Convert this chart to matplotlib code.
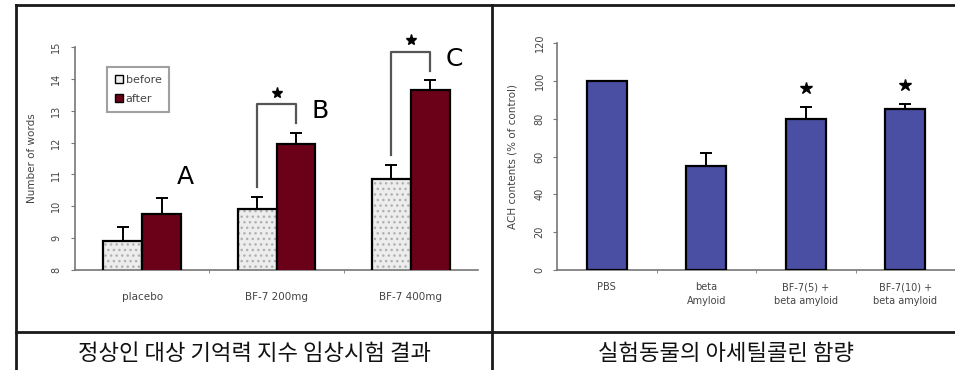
import matplotlib
matplotlib.use("Agg")
import matplotlib.pyplot as plt
from matplotlib.lines import Line2D
from matplotlib.patches import Patch
import numpy as np

# ---- data: left chart ----
groups = ["placebo", "BF-7 200mg", "BF-7 400mg"]
before_vals = [8.9, 9.9, 10.85]
before_err = [0.45, 0.4, 0.45]
after_vals = [9.75, 11.95, 13.65]
after_err = [0.5, 0.35, 0.3]
group_letters = ["A", "B", "C"]
left_yticks = [8, 9, 10, 11, 12, 13, 14, 15]

# ---- data: right chart ----
right_cats = ["PBS", "beta\nAmyloid", "BF-7(5) +\nbeta amyloid", "BF-7(10) +\nbeta amyloid"]
ach_vals = [100, 55, 80, 85]
ach_err = [0, 7, 6, 3]
ach_star = [False, False, True, True]
right_yticks = [0, 20, 40, 60, 80, 100, 120]

captions = ["정상인 대상 기억력 지수 임상시험 결과", "실험동물의 아세틸콜린 함량"]

W, H = 955, 370
fig = plt.figure(figsize=(W / 100, H / 100), dpi=100)
fig.patch.set_facecolor("white")

def fx(px):
    return px / W

def fy(py):
    return 1 - py / H

def add_ax(l, t, r, b):
    return fig.add_axes([fx(l), fy(b), fx(r) - fx(l), fy(t) - fy(b)])

tick_col = "#444444"
dark_red = "#6b0019"
blue = "#4b4fa3"

# ---------- left chart ----------
ax1 = add_ax(75, 47, 478, 270)
x = np.arange(len(groups))
bw = 0.29
ax1.bar(x - bw / 2, before_vals, bw, bottom=0, color="#ededed", edgecolor="#b0b0b0",
        hatch="...", linewidth=0, zorder=2)
ax1.bar(x - bw / 2, before_vals, bw, color="none", edgecolor="black", linewidth=1.6, zorder=3)
ax1.bar(x + bw / 2, after_vals, bw, color=dark_red, edgecolor="black", linewidth=1.6, zorder=3)
ax1.errorbar(x - bw / 2, before_vals, yerr=[np.zeros(3), before_err], fmt="none",
             ecolor="black", elinewidth=1.4, capsize=4, capthick=1.4, zorder=4)
ax1.errorbar(x + bw / 2, after_vals, yerr=[np.zeros(3), after_err], fmt="none",
             ecolor="black", elinewidth=1.4, capsize=4, capthick=1.4, zorder=4)
ax1.set_ylim(8, 15)
ax1.set_xlim(-0.5, 2.5)
ax1.set_yticks(left_yticks)
ax1.set_yticklabels([str(v) for v in left_yticks], fontsize=7, color=tick_col,
                    rotation=90, va="center")
ax1.set_xticks(x)
ax1.set_xticklabels(groups, fontsize=7.5, color=tick_col)
ax1.set_xticks([0.5, 1.5], minor=True)
ax1.tick_params(axis="x", which="major", length=0, pad=16)
ax1.tick_params(axis="x", which="minor", length=2, color="#777777", direction="out")
ax1.tick_params(axis="y", length=3, color="#777777", direction="out", pad=7)
for s in ["top", "right"]:
    ax1.spines[s].set_visible(False)
for s in ["left", "bottom"]:
    ax1.spines[s].set_color("#777777")
    ax1.spines[s].set_linewidth(1.2)
ax1.set_ylabel("Number of words", fontsize=7.5, color=tick_col, labelpad=10)

# letters
for i, lt in enumerate(group_letters):
    top = after_vals[i] + after_err[i]
    ax1.text(i + bw - 0.03, top + 0.68, lt, fontsize=18, color="black", ha="left",
             va="center", clip_on=False)

# brackets with stars for groups 1 and 2
for i in [1, 2]:
    yb = before_vals[i] + before_err[i] + 0.3
    ya = after_vals[i] + after_err[i] + 0.3
    ytop = after_vals[i] + after_err[i] + 0.9
    ax1.plot([i - bw / 2, i - bw / 2, i + bw / 2, i + bw / 2], [yb, ytop, ytop, ya],
             color="#555555", lw=1.6, zorder=5, clip_on=False)
    ax1.plot([i], [ytop + 0.37], marker="*", color="black", markersize=8, zorder=5,
             clip_on=False)

leg = ax1.legend(handles=[Patch(facecolor="#eeeeee", edgecolor="black", label="before"),
                          Patch(facecolor=dark_red, edgecolor="black", label="after")],
                 loc="upper left", bbox_to_anchor=(0.065, 0.935), fontsize=8, frameon=True,
                 fancybox=False, handlelength=0.8, handleheight=0.8, handletextpad=0.2,
                 borderpad=0.7, labelspacing=0.8, edgecolor="#888888")
leg.get_frame().set_linewidth(1.5)
for t in leg.get_texts():
    t.set_color(tick_col)

# ---------- right chart ----------
ax2 = add_ax(557, 43, 955, 270)
x2 = np.arange(len(right_cats))
bw2 = 0.4
ax2.bar(x2, ach_vals, bw2, color=blue, edgecolor="black", linewidth=1.6, zorder=3)
err_idx = [i for i, e in enumerate(ach_err) if e > 0]
ax2.errorbar([x2[i] for i in err_idx], [ach_vals[i] for i in err_idx],
             yerr=[[0] * len(err_idx), [ach_err[i] for i in err_idx]], fmt="none",
             ecolor="black", elinewidth=1.4, capsize=4, capthick=1.4, zorder=4)
for i, st in enumerate(ach_star):
    if st:
        ax2.plot([x2[i]], [ach_vals[i] + ach_err[i] + 10], marker="*", color="black",
                 markersize=9, zorder=5)
ax2.set_ylim(0, 120)
ax2.set_xlim(-0.5, 3.5)
ax2.set_yticks(right_yticks)
ax2.set_yticklabels([str(v) for v in right_yticks], fontsize=7, color=tick_col,
                    rotation=90, va="center")
ax2.set_xticks(x2)
ax2.set_xticklabels(right_cats, fontsize=7, color=tick_col, linespacing=1.4)
ax2.set_xticks([0.5, 1.5, 2.5], minor=True)
ax2.tick_params(axis="x", which="major", length=0, pad=9)
ax2.tick_params(axis="x", which="minor", length=2, color="#777777", direction="out")
ax2.tick_params(axis="y", length=3, color="#777777", direction="out", pad=6)
for s in ["top", "right"]:
    ax2.spines[s].set_visible(False)
for s in ["left", "bottom"]:
    ax2.spines[s].set_color("#777777")
    ax2.spines[s].set_linewidth(1.2)
ax2.set_ylabel("ACH contents (% of control)", fontsize=7.5, color=tick_col, labelpad=12)

# ---------- table borders ----------
def hline(y, x0, x1, lw=2.0):
    fig.add_artist(Line2D([fx(x0), fx(x1)], [fy(y), fy(y)], color="#1a1a1a", lw=lw))

def vline(x0, y0, y1, lw=2.0):
    fig.add_artist(Line2D([fx(x0), fx(x0)], [fy(y0), fy(y1)], color="#1a1a1a", lw=lw))

hline(5, 16, 955)
hline(332, 16, 955)
vline(16, 5, 370)
vline(492, 5, 370)

# ---------- captions ----------
cap_font = ["Noto Sans CJK KR", "DejaVu Sans"]
fig.text(fx(254), fy(353), captions[0], fontsize=16, family=cap_font, ha="center", va="center",
         color="#111111")
fig.text(fx(726), fy(353), captions[1], fontsize=16, family=cap_font, ha="center", va="center",
         color="#111111")

fig.savefig("out.png", dpi=100)
